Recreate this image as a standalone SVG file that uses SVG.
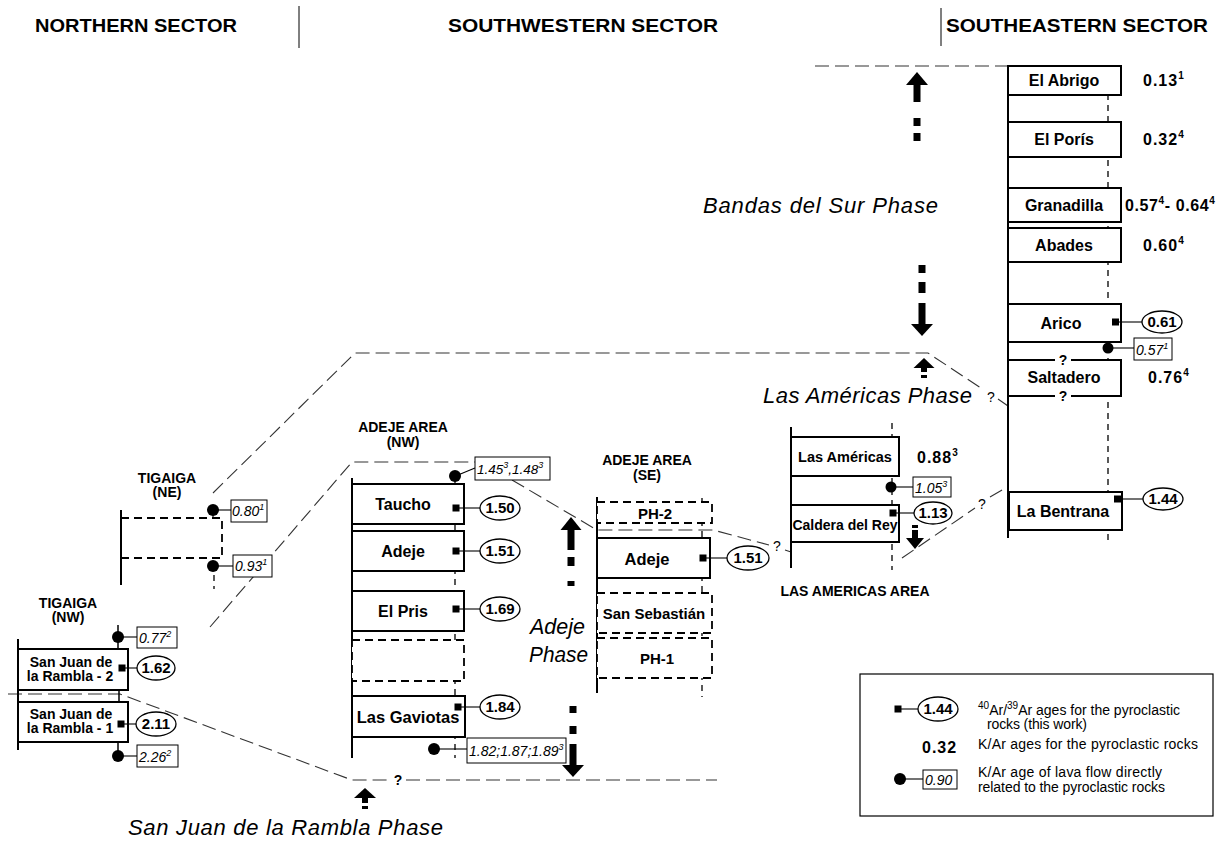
<svg xmlns="http://www.w3.org/2000/svg" width="1220" height="843" viewBox="0 0 1220 843">
<style>
text{font-family:"Liberation Sans",Arial,Helvetica,sans-serif;fill:#000}
.hd{font-size:19px;font-weight:bold}
.bl{font-size:16px;font-weight:bold;text-anchor:middle}
.sm{font-size:13.5px;font-weight:bold;text-anchor:middle}
.age{font-size:16px;font-weight:bold;letter-spacing:1px}
.num{font-size:15px;font-weight:bold;text-anchor:middle}
.it{font-size:14px;font-style:italic}
.ph{font-size:22px;font-style:italic}
.lg{font-size:14px}
.q{font-size:14px;text-anchor:middle}
.qb{font-size:14px;font-weight:bold;text-anchor:middle}
.box{fill:#fff;stroke:#000;stroke-width:2}
.dbox{fill:#fff;stroke:#000;stroke-width:1.8;stroke-dasharray:8 5}
.col{stroke:#000;stroke-width:2;fill:none}
.dcol{stroke:#000;stroke-width:1.3;stroke-dasharray:6 5;fill:none}
.bound{stroke:#333;stroke-width:1.1;stroke-dasharray:14 6;fill:none}
.lnk{stroke:#000;stroke-width:1.1;fill:none}
.ell{fill:#fff;stroke:#000;stroke-width:1.3}
.ibox{fill:#fff;stroke:#000;stroke-width:1}
.arr{fill:#000}
</style>
<rect width="1220" height="843" fill="#fff"/>

<!-- headers -->
<g id="headers">
<text class="hd" x="35" y="32" textLength="202" lengthAdjust="spacingAndGlyphs">NORTHERN SECTOR</text>
<text class="hd" x="448" y="32" textLength="270" lengthAdjust="spacingAndGlyphs">SOUTHWESTERN SECTOR</text>
<text class="hd" x="946" y="32" textLength="262" lengthAdjust="spacingAndGlyphs">SOUTHEASTERN SECTOR</text>
<line x1="299" y1="6" x2="299" y2="48" stroke="#000" stroke-width="1"/>
<line x1="941" y1="8" x2="941" y2="46" stroke="#000" stroke-width="1"/>
</g>

<!-- connectors: phase boundaries -->
<g id="connectors">
<path class="bound" d="M815,66 H1008"/>
<path class="bound" d="M213,493 L355,353 H928 L984,390 M998,399 L1008,406"/>
<path class="bound" d="M210,627 L352,462 H475 M512,480 L597,530 H713 L769,545 M785,550 L791,552"/>
<path class="bound" d="M902,558 L975,508 M990,497 L1007,487"/>
<path class="bound" d="M8,694 H120 L352,780 H390 M406,780 H717"/>
<text class="q" x="991" y="402">?</text>
<text class="q" x="777" y="551">?</text>
<text class="q" x="982" y="509">?</text>
<text class="qb" x="398" y="785">?</text>
</g>

<!-- phase labels and arrows -->
<g id="phases">
<text class="ph" x="703" y="213" textLength="235" lengthAdjust="spacing">Bandas del Sur Phase</text>
<text class="ph" x="763" y="403" textLength="209" lengthAdjust="spacing">Las Américas Phase</text>
<text class="ph" x="530" y="634" textLength="55" lengthAdjust="spacingAndGlyphs">Adeje</text>
<text class="ph" x="529" y="662" textLength="59" lengthAdjust="spacingAndGlyphs">Phase</text>
<text class="ph" x="128" y="835" textLength="315" lengthAdjust="spacing">San Juan de la Rambla Phase</text>
<polygon class="arr" points="917,72 906,85 928,85"/>
<rect class="arr" x="913.5" y="84" width="7" height="18"/>
<rect class="arr" x="913.5" y="118" width="7" height="8"/>
<rect class="arr" x="913.5" y="133" width="7" height="8"/>
<rect class="arr" x="918.5" y="265" width="7" height="8"/>
<rect class="arr" x="918.5" y="282" width="7" height="11"/>
<rect class="arr" x="918.5" y="303" width="7" height="22"/>
<polygon class="arr" points="911,324 933,324 922,336"/>
<polygon class="arr" points="924,358 913.5,368 934.5,368"/>
<rect class="arr" x="921" y="367" width="6" height="5"/>
<rect class="arr" x="921" y="375" width="6" height="3"/>
<polygon class="arr" points="571,517 560.5,530 581.5,530"/>
<rect class="arr" x="567.5" y="529" width="7" height="21"/>
<rect class="arr" x="567.5" y="557" width="7" height="9"/>
<rect class="arr" x="567.5" y="581" width="7" height="5"/>
<rect class="arr" x="569.5" y="706" width="7" height="7"/>
<rect class="arr" x="569.5" y="726" width="7" height="8"/>
<rect class="arr" x="569.5" y="744" width="7" height="22"/>
<polygon class="arr" points="562,765 584,765 573,777"/>
<polygon class="arr" points="365,788 354,798 376,798"/>
<rect class="arr" x="362" y="797" width="6" height="6"/>
<rect class="arr" x="362" y="806" width="6" height="3"/>
</g>

<!-- SOUTHEASTERN column -->
<g id="se-column">
<line class="col" x1="1008" y1="66" x2="1008" y2="538"/>
<line class="dcol" x1="1108" y1="94" x2="1108" y2="542"/>
</g>
<g id="el-abrigo"><rect class="box" x="1008" y="66" width="113" height="29"/><text class="bl" x="1064" y="86">El  Abrigo</text>
<text class="age" x="1143" y="86">0.13<tspan dy="-7" font-size="10">1</tspan></text></g>
<g id="el-poris"><rect class="box" x="1008" y="122" width="113" height="35"/><text class="bl" x="1064" y="145">El  Porís</text>
<text class="age" x="1143" y="145">0.32<tspan dy="-7" font-size="10">4</tspan></text></g>
<g id="granadilla"><rect class="box" x="1008" y="188" width="113" height="34"/><text class="bl" x="1064" y="211">Granadilla</text>
<text class="age" x="1125" y="211" style="letter-spacing:0.6px">0.57<tspan dy="-7" font-size="10">4</tspan><tspan dy="7">- 0.64</tspan><tspan dy="-7" font-size="10">4</tspan></text></g>
<g id="abades"><rect class="box" x="1008" y="228" width="113" height="34"/><text class="bl" x="1064" y="251">Abades</text>
<text class="age" x="1143" y="251">0.60<tspan dy="-7" font-size="10">4</tspan></text></g>
<g id="arico"><rect class="box" x="1008" y="304" width="113" height="38"/><text class="bl" x="1061" y="329">Arico</text>
<rect x="1112" y="318.5" width="7" height="7"/>
<line class="lnk" x1="1118" y1="322" x2="1142" y2="322"/>
<ellipse class="ell" cx="1162" cy="322" rx="20" ry="11"/><text class="num" x="1162" y="327">0.61</text>
<circle cx="1108" cy="348" r="5.5"/>
<line class="lnk" x1="1112" y1="348" x2="1134" y2="348"/>
<rect class="ibox" x="1134" y="338" width="38" height="22"/><text class="it" x="1136" y="355">0.57<tspan dy="-6" font-size="9">1</tspan></text></g>
<g id="saltadero"><rect class="box" x="1008" y="360" width="113" height="36"/>
<rect x="1055" y="355" width="16" height="10" fill="#fff"/><rect x="1055" y="391" width="16" height="10" fill="#fff"/>
<text class="qb" x="1063" y="365">?</text><text class="qb" x="1063" y="401">?</text>
<text class="bl" x="1064" y="383">Saltadero</text>
<text class="age" x="1148" y="383">0.76<tspan dy="-7" font-size="10">4</tspan></text></g>
<g id="la-bentrana"><rect class="box" x="1009" y="492" width="113" height="38"/><text class="bl" x="1063" y="517">La  Bentrana</text>
<rect x="1114" y="495.5" width="7" height="7"/>
<line class="lnk" x1="1120" y1="499" x2="1143" y2="499"/>
<ellipse class="ell" cx="1163" cy="499" rx="20" ry="11"/><text class="num" x="1163" y="504">1.44</text></g>

<!-- LAS AMERICAS AREA -->
<g id="las-americas-area">
<line class="col" x1="791" y1="427" x2="791" y2="568"/>
<line class="dcol" x1="892" y1="423" x2="892" y2="570"/>
<text class="sm" x="855" y="596" style="font-size:14px">LAS AMERICAS AREA</text>
</g>
<g id="las-americas"><rect class="box" x="791" y="437" width="108" height="39"/><text class="bl" x="845" y="462" style="font-size:14.5px">Las  Américas</text>
<text class="age" x="917" y="463">0.88<tspan dy="-7" font-size="10">3</tspan></text>
<circle cx="891" cy="487" r="5.5"/>
<line class="lnk" x1="895" y1="487" x2="913" y2="487"/>
<rect class="ibox" x="913" y="477" width="38" height="20"/><text class="it" x="915" y="493">1.05<tspan dy="-6" font-size="9">3</tspan></text></g>
<g id="caldera-del-rey"><rect class="box" x="791" y="505" width="108" height="37"/><text class="bl" x="845" y="530" style="font-size:14px">Caldera del Rey</text>
<rect x="889.5" y="509.5" width="7" height="7"/>
<line class="lnk" x1="896" y1="513" x2="914" y2="513"/>
<ellipse class="ell" cx="933" cy="513" rx="19" ry="11"/><text class="num" x="933" y="518">1.13</text>
<rect class="arr" x="912" y="525" width="6" height="3"/>
<rect class="arr" x="912" y="530" width="6" height="9"/>
<polygon class="arr" points="906,538 924,538 915,549"/></g>

<!-- ADEJE AREA (NW) -->
<g id="adeje-nw-column">
<text class="sm" x="403" y="432" style="font-size:14px">ADEJE  AREA</text>
<text class="sm" x="403" y="447" style="font-size:14px">(NW)</text>
<line class="col" x1="352" y1="478" x2="352" y2="758"/>
<line class="dcol" x1="455" y1="480" x2="455" y2="758"/>
<circle cx="455" cy="476" r="6"/>
<line class="lnk" x1="458" y1="475" x2="475" y2="468"/>
<rect class="ibox" x="475" y="457" width="75" height="23"/><text class="it" x="477" y="474" style="font-size:13.5px">1.45<tspan dy="-6" font-size="9">3</tspan><tspan dy="6">,1.48</tspan><tspan dy="-6" font-size="9">3</tspan></text>
</g>
<g id="taucho"><rect class="box" x="352" y="484" width="112" height="40"/><text class="bl" x="403" y="510">Taucho</text>
<rect x="452.5" y="504.5" width="7" height="7"/><line class="lnk" x1="459" y1="508" x2="480" y2="508"/>
<ellipse class="ell" cx="500" cy="508" rx="20" ry="12"/><text class="num" x="500" y="513">1.50</text></g>
<g id="adeje-nw"><rect class="box" x="352" y="531" width="112" height="40"/><text class="bl" x="403" y="557">Adeje</text>
<rect x="452.5" y="547.5" width="7" height="7"/><line class="lnk" x1="459" y1="551" x2="480" y2="551"/>
<ellipse class="ell" cx="500" cy="551" rx="20" ry="12"/><text class="num" x="500" y="556">1.51</text></g>
<g id="el-pris"><rect class="box" x="352" y="591" width="112" height="40"/><text class="bl" x="403" y="617">El  Pris</text>
<rect x="452.5" y="605.5" width="7" height="7"/><line class="lnk" x1="459" y1="609" x2="480" y2="609"/>
<ellipse class="ell" cx="500" cy="609" rx="20" ry="12"/><text class="num" x="500" y="614">1.69</text></g>
<g id="unnamed-nw"><rect class="dbox" x="352" y="640" width="112" height="41"/></g>
<g id="las-gaviotas"><rect class="box" x="352" y="696" width="113" height="41"/><text class="bl" x="408" y="723" style="font-size:16.5px">Las  Gaviotas</text>
<rect x="454.5" y="703.5" width="7" height="7"/><line class="lnk" x1="461" y1="707" x2="480" y2="707"/>
<ellipse class="ell" cx="500" cy="707" rx="20" ry="12"/><text class="num" x="500" y="712">1.84</text>
<circle cx="434" cy="749" r="6"/><line class="lnk" x1="438" y1="749" x2="467" y2="749"/>
<rect class="ibox" x="467" y="738" width="99" height="25"/><text class="it" x="469" y="756">1.82;1.87;1.89<tspan dy="-6" font-size="9">3</tspan></text></g>

<!-- ADEJE AREA (SE) -->
<g id="adeje-se-column">
<text class="sm" x="647" y="465" style="font-size:14px">ADEJE  AREA</text>
<text class="sm" x="647" y="480" style="font-size:14px">(SE)</text>
<line class="col" x1="597" y1="497" x2="597" y2="693"/>
<line class="dcol" x1="702" y1="498" x2="702" y2="697"/>
</g>
<g id="ph-2"><rect class="dbox" x="597" y="502" width="115" height="21"/><text class="bl" x="655" y="519" style="font-size:15px">PH-2</text></g>
<g id="adeje-se"><rect class="box" x="597" y="538" width="113" height="40"/><text class="bl" x="647" y="565" style="font-size:16.5px">Adeje</text>
<rect x="699.5" y="554.5" width="7" height="7"/><line class="lnk" x1="706" y1="558" x2="727" y2="558"/>
<ellipse class="ell" cx="748" cy="558" rx="21" ry="12"/><text class="num" x="748" y="563">1.51</text></g>
<g id="san-sebastian"><rect class="dbox" x="597" y="593" width="115" height="40"/><text class="bl" x="654" y="619" style="font-size:15px">San Sebastián</text></g>
<g id="ph-1"><rect class="dbox" x="597" y="638" width="115" height="40"/><text class="bl" x="657" y="664" style="font-size:15px">PH-1</text></g>

<!-- TIGAIGA (NE) -->
<g id="tigaiga-ne">
<text class="sm" x="167" y="483" style="font-size:14px">TIGAIGA</text>
<text class="sm" x="167" y="497" style="font-size:14px">(NE)</text>
<line class="col" x1="121" y1="510" x2="121" y2="585"/>
<path class="dbox" style="fill:none" d="M121,518 H222 V558 H121"/>
<line class="lnk" x1="213" y1="510" x2="213" y2="518"/>
<circle cx="213" cy="510" r="6"/>
<line class="lnk" x1="217" y1="510" x2="231" y2="510"/>
<rect class="ibox" x="231" y="500" width="36" height="22"/><text class="it" x="232" y="516">0.80<tspan dy="-6" font-size="9">1</tspan></text>
<circle cx="213" cy="566" r="6"/>
<line class="lnk" x1="217" y1="566" x2="233" y2="566"/>
<rect class="ibox" x="233" y="555" width="39" height="22"/><text class="it" x="235" y="571">0.93<tspan dy="-6" font-size="9">1</tspan></text>
<line class="dcol" x1="214" y1="575" x2="214" y2="589"/>
</g>

<!-- TIGAIGA (NW) -->
<g id="tigaiga-nw-column">
<text class="sm" x="68" y="608" style="font-size:14px">TIGAIGA</text>
<text class="sm" x="68" y="622" style="font-size:14px">(NW)</text>
<line class="col" x1="18" y1="639" x2="18" y2="750"/>
<line class="col" x1="118" y1="625" x2="118" y2="649" style="stroke-width:1.5"/>
<line class="col" x1="119" y1="690" x2="119" y2="702" style="stroke-width:1.5"/>
<line class="col" x1="118" y1="742" x2="118" y2="756" style="stroke-width:1.5"/>
<circle cx="118" cy="637" r="6"/>
<line class="lnk" x1="122" y1="637" x2="137" y2="637"/>
<rect class="ibox" x="137" y="627" width="40" height="21"/><text class="it" x="139" y="643">0.77<tspan dy="-6" font-size="9">2</tspan></text>
<circle cx="118" cy="756" r="6"/>
<line class="lnk" x1="122" y1="756" x2="137" y2="756"/>
<rect class="ibox" x="137" y="745" width="41" height="22"/><text class="it" x="139" y="762">2.26<tspan dy="-6" font-size="9">2</tspan></text>
</g>
<g id="san-juan-2"><rect class="box" x="18" y="649" width="110" height="41"/>
<text class="sm" x="71" y="667" style="font-size:14px">San Juan de</text><text class="sm" x="70" y="681" style="font-size:14px">la  Rambla - 2</text>
<rect x="118.5" y="664.5" width="7" height="7"/><line class="lnk" x1="125" y1="668" x2="137" y2="668"/>
<ellipse class="ell" cx="156" cy="668" rx="19" ry="12"/><text class="num" x="156" y="673">1.62</text></g>
<g id="san-juan-1"><rect class="box" x="18" y="702" width="110" height="40"/>
<text class="sm" x="71" y="719" style="font-size:14px">San Juan de</text><text class="sm" x="70" y="733" style="font-size:14px">la  Rambla - 1</text>
<rect x="117.5" y="720.5" width="7" height="7"/><line class="lnk" x1="124" y1="724" x2="136" y2="724"/>
<ellipse class="ell" cx="156" cy="724" rx="20" ry="12"/><text class="num" x="156" y="729">2.11</text></g>

<!-- legend -->
<g id="legend">
<rect x="860" y="674" width="353" height="142" fill="#fff" stroke="#000" stroke-width="1.2"/>
<rect x="894.5" y="705.5" width="7" height="7"/><line class="lnk" x1="901" y1="709" x2="918" y2="709"/>
<ellipse class="ell" cx="938" cy="709" rx="20" ry="12"/><text class="num" x="938" y="714">1.44</text>
<text class="lg" x="978" y="715"><tspan dy="-6" font-size="10">40</tspan><tspan dy="6">Ar/</tspan><tspan dy="-6" font-size="10">39</tspan><tspan dy="6">Ar  ages for the pyroclastic</tspan></text>
<text class="lg" x="987" y="729" textLength="100" lengthAdjust="spacing">rocks (this work)</text>
<text x="922" y="753" style="font-size:16px;font-weight:bold;letter-spacing:1px">0.32</text>
<text class="lg" x="978" y="749" textLength="220" lengthAdjust="spacing">K/Ar  ages for the  pyroclastic rocks</text>
<circle cx="900" cy="779" r="6"/><line class="lnk" x1="904" y1="779" x2="923" y2="779"/>
<rect class="ibox" x="923" y="770" width="34" height="19"/><text class="it" x="925" y="785">0.90</text>
<text class="lg" x="978" y="777" textLength="184" lengthAdjust="spacing">K/Ar age of lava flow directly</text>
<text class="lg" x="978" y="792" textLength="187" lengthAdjust="spacing">related to the pyroclastic rocks</text>
</g>
</svg>
